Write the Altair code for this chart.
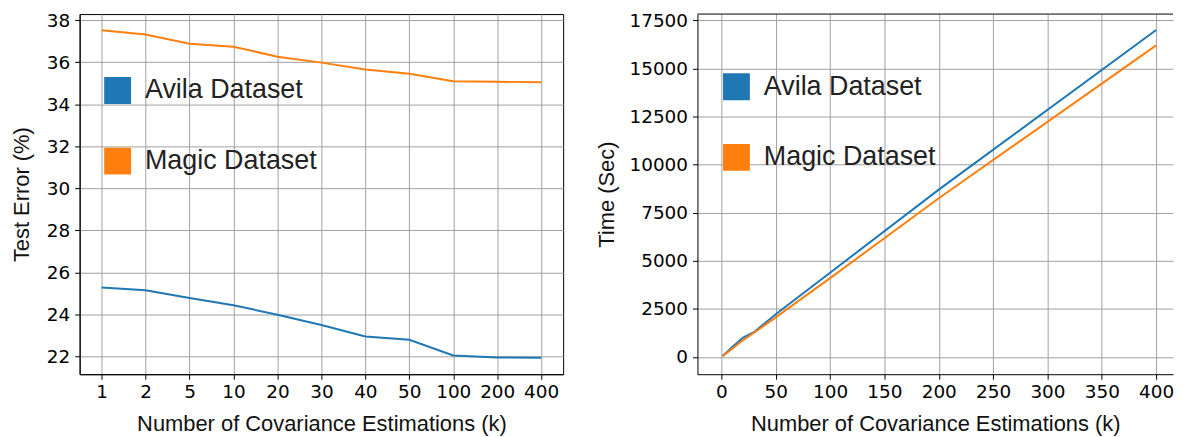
import altair as alt
import pandas as pd

# ---- data ----
k_labels = ["1", "2", "5", "10", "20", "30", "40", "50", "100", "200", "400"]
k_values = [1, 2, 5, 10, 20, 30, 40, 50, 100, 200, 400]
series = ["Avila Dataset", "Magic Dataset"]
colors = ["#1f77b4", "#ff7f0e"]

avila_err = [25.29, 25.15, 24.79, 24.44, 23.99, 23.50, 22.95, 22.80, 22.05, 21.96, 21.94]
magic_err = [37.52, 37.32, 36.88, 36.74, 36.26, 35.98, 35.65, 35.45, 35.10, 35.07, 35.05]

avila_time = [50, 100, 250, 520, 1010, 1290, 1760, 2220, 4380, 8700, 17000]
magic_time = [40, 80, 210, 430, 880, 1260, 1660, 2060, 4100, 8250, 16200]

err_ticks = [22, 24, 26, 28, 30, 32, 34, 36, 38]
time_ticks = [0, 2500, 5000, 7500, 10000, 12500, 15000, 17500]
k_ticks = [0, 50, 100, 150, 200, 250, 300, 350, 400]

# ---- tables ----
err_rows = []
time_rows = []
for s, ev, tv in [(series[0], avila_err, avila_time), (series[1], magic_err, magic_time)]:
    for lab, kv, e, t in zip(k_labels, k_values, ev, tv):
        err_rows.append({"k": lab, "err": e, "series": s})
        time_rows.append({"k": kv, "time": t, "series": s})
df_err = pd.DataFrame(err_rows)
df_time = pd.DataFrame(time_rows)
df_one = pd.DataFrame({"series": series[:1]})

GRID = "#a0a0a0"
W_L, W_R, H = 486, 478, 362

# legend swatch: a solid square built from overlapping 2px strokes
SW = 27.0
half = SW / 2
offs = [-half + 1 + 1.5 * i for i in range(17)] + [half - 1]
SWATCH = "".join(f"M-1,{o / half:.4f}H1" for o in offs)


def legend(x, y):
    return alt.Legend(
        orient="none", legendX=x, legendY=y, title=None,
        symbolType=SWATCH, symbolSize=SW * SW, symbolStrokeWidth=2,
        symbolOpacity=1, labelFont="Liberation Sans", labelFontSize=27,
        labelColor="#222222", labelOffset=13, rowPadding=38, padding=0,
        labelLimit=400,
    )


# ---- left panel ----
x_left = alt.X(
    "k:O", sort=k_labels, scale=alt.Scale(type="point", padding=0.5),
    axis=alt.Axis(title="Number of Covariance Estimations (k)", labelAngle=0,
                  grid=True, labelPadding=3, titlePadding=13),
)
y_left = alt.Y(
    "err:Q", scale=alt.Scale(domain=[21.16, 38.29], nice=False, zero=False),
    axis=alt.Axis(title="Test Error (%)", values=err_ticks, titlePadding=13),
)
left = alt.Chart(df_err).mark_line().encode(
    x=x_left, y=y_left,
    color=alt.Color("series:N", scale=alt.Scale(domain=series, range=colors),
                    legend=legend(23.7, 62.3)),
).properties(width=W_L, height=H, view=alt.ViewBackground(stroke="black", strokeWidth=1))

# ---- right panel ----
x_right = alt.X(
    "k:Q", scale=alt.Scale(domain=[-22, 415.5], nice=False, zero=False),
    axis=alt.Axis(title="Number of Covariance Estimations (k)", values=k_ticks,
                  labelPadding=3, titlePadding=13),
)
y_right = alt.Y(
    "time:Q", scale=alt.Scale(domain=[-895, 17826], nice=False, zero=False),
    axis=alt.Axis(title="Time (Sec)", values=time_ticks, format="d",
                  titlePadding=10.5),
)
right_lines = alt.Chart(df_time).mark_line().encode(
    x=x_right, y=y_right,
    color=alt.Color("series:N", scale=alt.Scale(domain=series, range=colors),
                    legend=legend(24.7, 58.6)),
)
top_border = alt.Chart(df_one).mark_rule(color="black", strokeWidth=1).encode(
    x=alt.value(0), x2=alt.value(W_R), y=alt.value(0)
)
right = alt.layer(right_lines, top_border).properties(
    width=W_R, height=H, view=alt.ViewBackground(stroke="transparent")
)

chart = (
    alt.hconcat(left, right, spacing=31)
    .resolve_scale(color="independent")
    .resolve_legend(color="independent")
    .properties(padding={"left": 1, "top": 1, "right": 0, "bottom": 0})
    .configure_line(strokeWidth=2)
    .configure_axis(
        labelFont="DejaVu Sans", labelFontSize=18.5, labelColor="black",
        titleFont="Liberation Sans", titleFontSize=22, titleColor="#111111",
        titleFontWeight="normal", tickColor="black", tickSize=5, tickWidth=1,
        labelPadding=5, domainColor="black", domainWidth=1,
        gridColor=GRID, gridWidth=1, gridOpacity=1,
    )
    .configure_view(strokeWidth=1)
)

chart.save("out.html", embed_options={"renderer": "svg", "actions": False})
